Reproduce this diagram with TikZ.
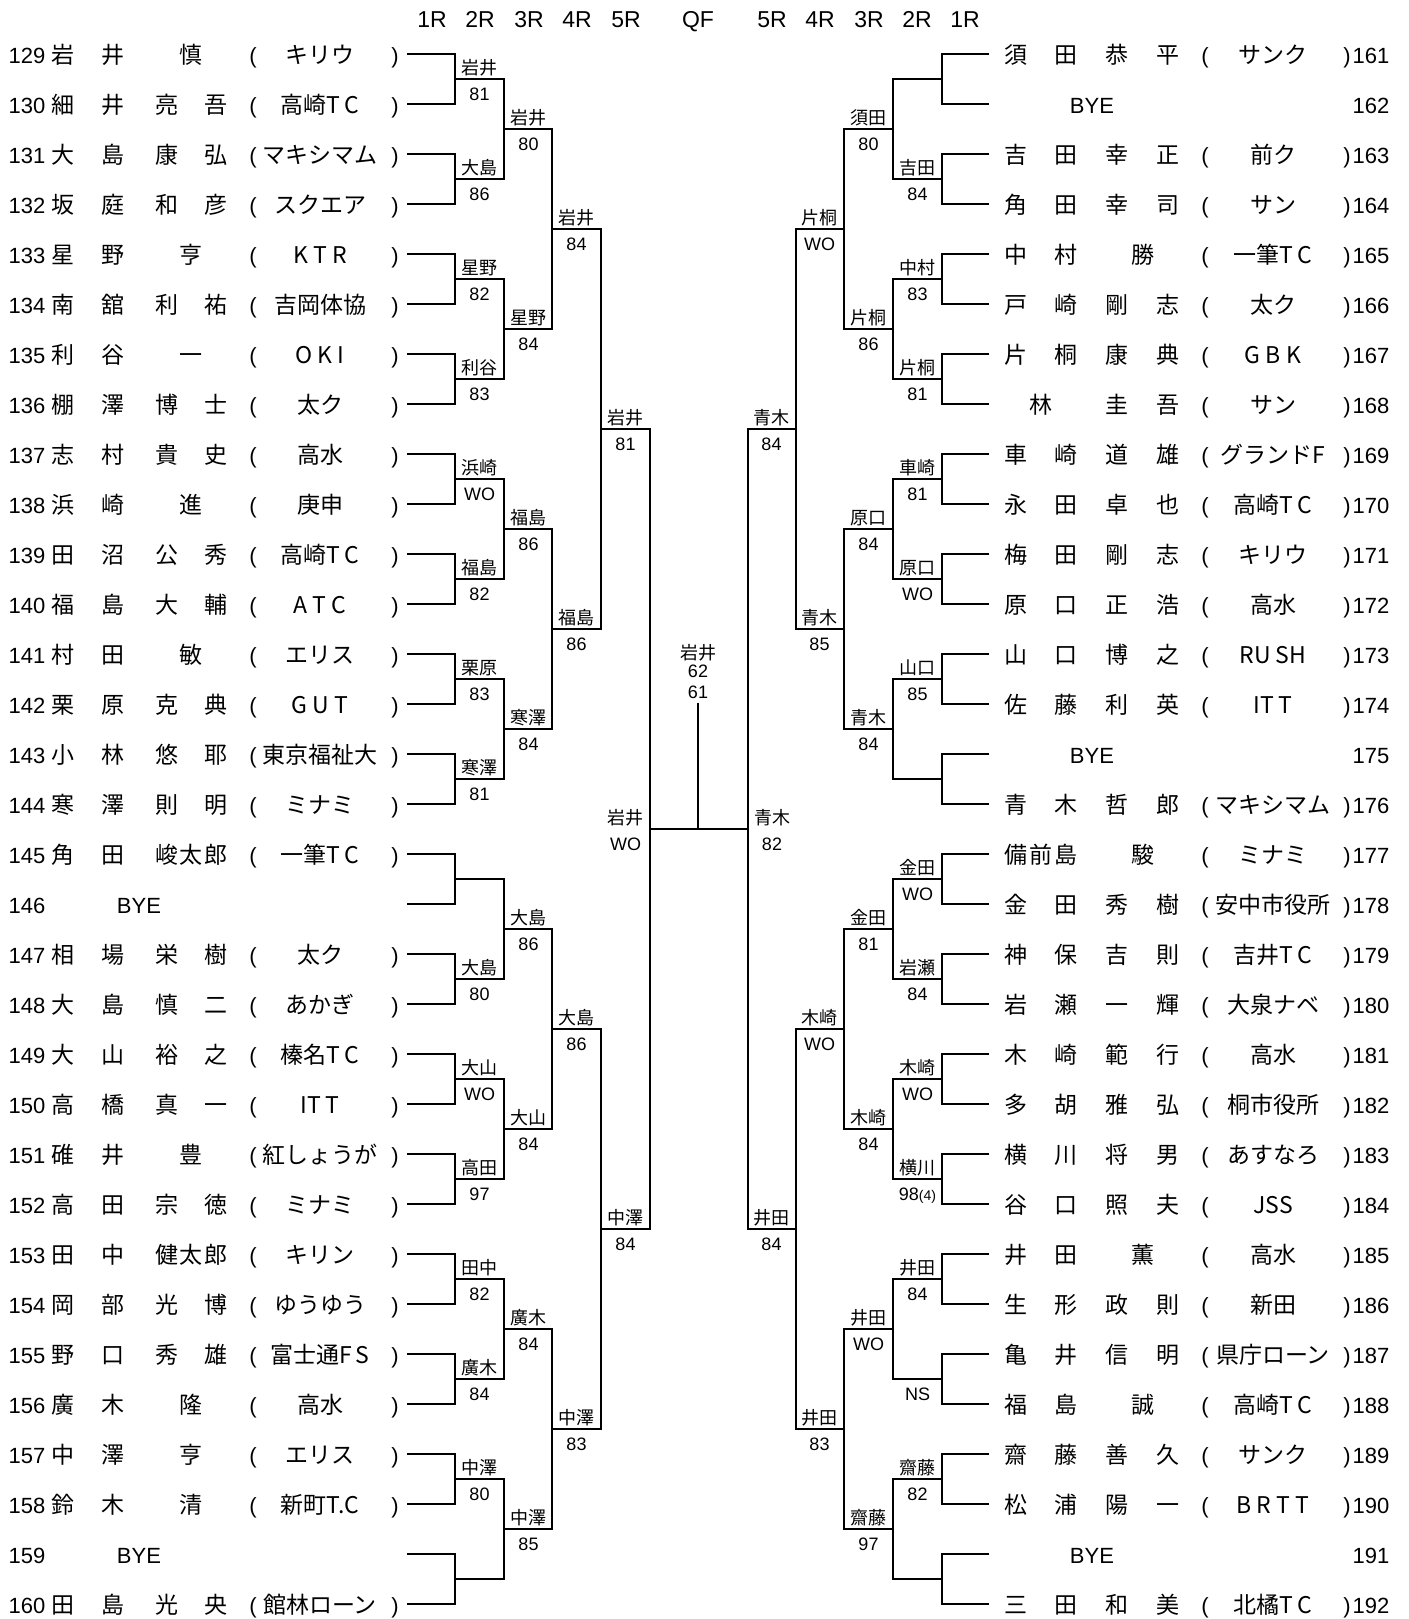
\documentclass[tikz,border=0pt]{standalone}
\usepackage{fontspec}
\setmainfont{Noto Sans CJK JP}
\newfontfamily\lat{Liberation Sans}
\usetikzlibrary{calc}

% y of the 1R line of row #1
\newcommand\rowy[1]{\pgfmathsetmacro\py{54+50*#1}}

% left entry: row, number, surname, given name, club
\newcommand\lplayer[5]{%
  \rowy{#1}%
  \node[num, anchor=base west] (n#2) at (8,\py+9) {#2};
  \node[txt] (s#2) at (88.5,\py+9) {\makebox[36.5pt]{#3}};
  \node[txt] (g#2) at (191.5,\py+9) {\makebox[36.5pt]{#4}};
  \node[num] (o#2) at (253,\py+9) {(};
  \node[txt] (c#2) at (320,\py+9) {#5};
  \node[num] (e#2) at (395,\py+9) {)};
  \coordinate (L0-#1) at (407,\py);
}
\newcommand\lbye[2]{%
  \rowy{#1}%
  \node[num, anchor=base west] (n#2) at (8,\py+9) {#2};
  \node[num] (b#2) at (139,\py+9) {BYE};
  \coordinate (L0-#1) at (407,\py);
}
% right entry
\newcommand\rplayer[5]{%
  \rowy{#1}%
  \coordinate (R0-#1) at (989,\py);
  \node[txt] (s#2) at (1041,\py+9) {\makebox[37pt]{#3}};
  \node[txt] (g#2) at (1142.5,\py+9) {\makebox[37pt]{#4}};
  \node[num] (o#2) at (1205,\py+9) {(};
  \node[txt] (c#2) at (1273,\py+9) {#5};
  \node[num] (e#2) at (1347,\py+9) {)};
  \node[num] (n#2) at (1371,\py+9) {#2};
}
\newcommand\rbye[2]{%
  \rowy{#1}%
  \coordinate (R0-#1) at (989,\py);
  \node[num] (b#2) at (1092,\py+9) {BYE};
  \node[num] (n#2) at (1371,\py+9) {#2};
}
% winner label: side, x offset, round, match, name, score
\newcommand\winner[6]{%
  \node[wname] (#1w#3-#4) at ($(#1#3-#4)+(#2,-5)$) {#5};
  \node[wscore] (#1p#3-#4) at ($(#1#3-#4)+(#2,21)$) {#6};
}

\begin{document}
\begin{tikzpicture}[
  x=0.5pt, y=-0.5pt,
  line width=0.55pt,
  txt/.style={anchor=base, inner sep=0pt, font=\fontsize{11.5pt}{13pt}\selectfont},
  num/.style={txt, font=\lat\fontsize{11pt}{13pt}\selectfont},
  head/.style={txt, font=\lat\fontsize{11.5pt}{13pt}\selectfont},
  wname/.style={anchor=base, inner sep=0pt, font=\fontsize{9pt}{10pt}\selectfont},
  wscore/.style={wname, font=\lat\fontsize{9pt}{10pt}\selectfont},
]
  \path[use as bounding box, fill=white] (0,0) rectangle (1409,1619);

  % round headers
  \foreach \x/\t in {432/1R, 480/2R, 529/3R, 577/4R, 626/5R, 698/QF,
                     772/5R, 820/4R, 869/3R, 917/2R, 965/1R}
    \node[head] (h\x) at (\x,27) {\t};

  % left draw
  \foreach \k/\n/\s/\g/\c in {
    0/129/岩\hfill 井/慎/キリウ,
    1/130/細\hfill 井/亮\hfill 吾/高崎T\,C,
    2/131/大\hfill 島/康\hfill 弘/マキシマム,
    3/132/坂\hfill 庭/和\hfill 彦/スクエア,
    4/133/星\hfill 野/亨/K T R,
    5/134/南\hfill 舘/利\hfill 祐/吉岡体協,
    6/135/利\hfill 谷/一/O K I,
    7/136/棚\hfill 澤/博\hfill 士/太ク,
    8/137/志\hfill 村/貴\hfill 史/高水,
    9/138/浜\hfill 崎/進/庚申,
    10/139/田\hfill 沼/公\hfill 秀/高崎T\,C,
    11/140/福\hfill 島/大\hfill 輔/A T C,
    12/141/村\hfill 田/敏/エリス,
    13/142/栗\hfill 原/克\hfill 典/G U T,
    14/143/小\hfill 林/悠\hfill 耶/東京福祉大,
    15/144/寒\hfill 澤/則\hfill 明/ミナミ,
    16/145/角\hfill 田/峻\hfill 太\hfill 郎/一筆T\,C,
    18/147/相\hfill 場/栄\hfill 樹/太ク,
    19/148/大\hfill 島/慎\hfill 二/あかぎ,
    20/149/大\hfill 山/裕\hfill 之/榛名T\,C,
    21/150/高\hfill 橋/真\hfill 一/IT T,
    22/151/碓\hfill 井/豊/紅しょうが,
    23/152/高\hfill 田/宗\hfill 徳/ミナミ,
    24/153/田\hfill 中/健\hfill 太\hfill 郎/キリン,
    25/154/岡\hfill 部/光\hfill 博/ゆうゆう,
    26/155/野\hfill 口/秀\hfill 雄/富士通F\,S,
    27/156/廣\hfill 木/隆/高水,
    28/157/中\hfill 澤/亨/エリス,
    29/158/鈴\hfill 木/清/新町T.C,
    31/160/田\hfill 島/光\hfill 央/館林ローン}
    {\lplayer{\k}{\n}{\s}{\g}{\c}}
  \lbye{17}{146}
  \lbye{30}{159}

  % right draw
  \foreach \k/\n/\s/\g/\c in {
    0/161/須\hfill 田/恭\hfill 平/サンク,
    2/163/吉\hfill 田/幸\hfill 正/前ク,
    3/164/角\hfill 田/幸\hfill 司/サン,
    4/165/中\hfill 村/勝/一筆T\,C,
    5/166/戸\hfill 崎/剛\hfill 志/太ク,
    6/167/片\hfill 桐/康\hfill 典/G B K,
    7/168/林/圭\hfill 吾/サン,
    8/169/車\hfill 崎/道\hfill 雄/グランドF,
    9/170/永\hfill 田/卓\hfill 也/高崎T\,C,
    10/171/梅\hfill 田/剛\hfill 志/キリウ,
    11/172/原\hfill 口/正\hfill 浩/高水,
    12/173/山\hfill 口/博\hfill 之/RU SH,
    13/174/佐\hfill 藤/利\hfill 英/IT T,
    15/176/青\hfill 木/哲\hfill 郎/マキシマム,
    16/177/備\hfill 前\hfill 島/駿/ミナミ,
    17/178/金\hfill 田/秀\hfill 樹/安中市役所,
    18/179/神\hfill 保/吉\hfill 則/吉井T\,C,
    19/180/岩\hfill 瀬/一\hfill 輝/大泉ナベ,
    20/181/木\hfill 崎/範\hfill 行/高水,
    21/182/多\hfill 胡/雅\hfill 弘/桐市役所,
    22/183/横\hfill 川/将\hfill 男/あすなろ,
    23/184/谷\hfill 口/照\hfill 夫/JSS,
    24/185/井\hfill 田/薫/高水,
    25/186/生\hfill 形/政\hfill 則/新田,
    26/187/亀\hfill 井/信\hfill 明/県庁ローン,
    27/188/福\hfill 島/誠/高崎T\,C,
    28/189/齋\hfill 藤/善\hfill 久/サンク,
    29/190/松\hfill 浦/陽\hfill 一/B R T T,
    31/192/三\hfill 田/和\hfill 美/北橘T\,C}
    {\rplayer{\k}{\n}{\s}{\g}{\c}}
  \rbye{1}{162}
  \rbye{14}{175}
  \rbye{30}{191}

  % brackets, one level at a time
  \foreach \side/\lv/\cx in {L/1/455, L/2/504, L/3/552, L/4/601, L/5/650,
                             R/1/942, R/2/893, R/3/844, R/4/796, R/5/748}{
    \pgfmathtruncatemacro\last{2^(5-\lv)-1}
    \pgfmathtruncatemacro\pv{\lv-1}
    \foreach \j in {0,...,\last}{
      \pgfmathsetmacro\yo{54+50*\j*2^\lv+25*(2^\lv-1)}
      \pgfmathtruncatemacro\ca{2*\j}
      \pgfmathtruncatemacro\cb{2*\j+1}
      \coordinate (\side\lv-\j) at (\cx,\yo);
      \draw (\side\pv-\ca) -| (\side\lv-\j);
      \draw (\side\pv-\cb) -| (\side\lv-\j);
    }
  }
  \draw (L5-0) -- (R5-0);
  \coordinate (F) at (698,703);
  \draw (F) -- (F |- L5-0);

  % results
  \foreach \lv/\j/\w/\s in {
    1/0/岩井/81, 1/1/大島/86, 1/2/星野/82, 1/3/利谷/83, 1/4/浜崎/WO,
    1/5/福島/82, 1/6/栗原/83, 1/7/寒澤/81, 1/9/大島/80, 1/10/大山/WO,
    1/11/高田/97, 1/12/田中/82, 1/13/廣木/84, 1/14/中澤/80,
    2/0/岩井/80, 2/1/星野/84, 2/2/福島/86, 2/3/寒澤/84,
    2/4/大島/86, 2/5/大山/84, 2/6/廣木/84, 2/7/中澤/85,
    3/0/岩井/84, 3/1/福島/86, 3/2/大島/86, 3/3/中澤/83,
    4/0/岩井/81, 4/1/中澤/84}
    \winner{L}{24.5}{\lv}{\j}{\w}{\s};
  \winner{L}{-24.5}{5}{0}{岩井}{WO}

  \foreach \lv/\j/\w/\s in {
    1/1/吉田/84, 1/2/中村/83, 1/3/片桐/81, 1/4/車崎/81, 1/5/原口/WO,
    1/6/山口/85, 1/8/金田/WO, 1/9/岩瀬/84, 1/10/木崎/WO,
    1/11/横川/98{\fontsize{7pt}{8pt}\selectfont(4)}, 1/12/井田/84,
    1/13//NS, 1/14/齋藤/82,
    2/0/須田/80, 2/1/片桐/86, 2/2/原口/84, 2/3/青木/84,
    2/4/金田/81, 2/5/木崎/84, 2/6/井田/WO, 2/7/齋藤/97,
    3/0/片桐/WO, 3/1/青木/85, 3/2/木崎/WO, 3/3/井田/83,
    4/0/青木/84, 4/1/井田/84}
    \winner{R}{-24.5}{\lv}{\j}{\w}{\s};
  \winner{R}{24}{5}{0}{青木}{82}

  % final
  \node[wname] (champ) at (698,659) {岩井};
  \node[wscore] (set1) at (698,677) {62};
  \node[wscore] (set2) at (698,698) {61};
\end{tikzpicture}
\end{document}
